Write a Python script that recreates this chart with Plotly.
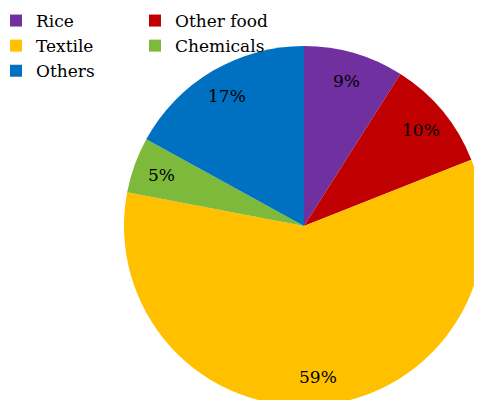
import math
import plotly.graph_objects as go

categories = ["Rice", "Other food", "Textile", "Chemicals", "Others"]
shares = [9, 10, 59, 5, 17]
colors = ["#7030A0", "#C00000", "#FFC000", "#7DBA3C", "#0070C0"]

FONT = "DejaVu Serif"

# geometry of the figure (pixels)
W, H = 482, 400
ML, MR, MT, MB = 116, 6, 0, 2
PW, PH = W - ML - MR, H - MT - MB
DOM_Y = [0, 1 - 38 / PH]

fig = go.Figure(
    go.Pie(
        labels=categories,
        values=shares,
        sort=False,
        direction="clockwise",
        rotation=0,
        marker=dict(colors=colors, line=dict(width=0)),
        textinfo="none",
        hoverinfo="label+percent",
        domain=dict(x=[0, 1], y=DOM_Y),
    )
)

# percentage labels placed along each slice's bisector (derived from the data)
total = sum(shares)
radius_px = min(PW, PH * (DOM_Y[1] - DOM_Y[0])) / 2
cx = 0.5
cy = (DOM_Y[0] + DOM_Y[1]) / 2
label_r = 0.84 * radius_px
cum = 0.0
annotations = []
for cat, v in zip(categories, shares):
    mid = (cum + v / 2) / total * 2 * math.pi
    cum += v
    x = cx + label_r * math.sin(mid) / PW
    y = cy + label_r * math.cos(mid) / PH
    annotations.append(
        dict(
            x=x, y=y, xref="paper", yref="paper",
            text=f"{round(100 * v / total)}%",
            showarrow=False,
            xanchor="center", yanchor="middle",
            font=dict(family=FONT, size=17, color="black"),
        )
    )

fig.update_layout(
    width=W,
    height=H,
    margin=dict(l=ML, r=MR, t=MT, b=MB, autoexpand=False),
    paper_bgcolor="white",
    plot_bgcolor="white",
    showlegend=True,
    annotations=annotations,
    legend=dict(
        orientation="h",
        entrywidth=94,
        x=(268 - 2 - ML) / PW,
        xanchor="right",
        y=1 + 5 / PH,
        yanchor="top",
        font=dict(family=FONT, size=17, color="black"),
        itemwidth=30,
        bgcolor="rgba(0,0,0,0)",
    ),
)

fig.write_html("out.html")
